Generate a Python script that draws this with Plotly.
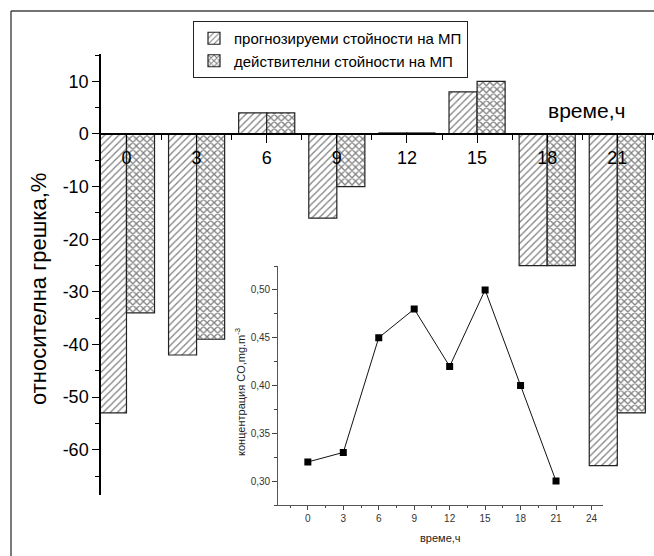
import plotly.graph_objects as go

# ---- data ----
hours = [0, 3, 6, 9, 12, 15, 18, 21]
predicted_err = [-53, -42, 4, -16, 0.2, 8, -25, -63]
actual_err = [-34, -39, 4, -10, 0.2, 10, -25, -53]
y_ticks = [10, 0, -10, -20, -30, -40, -50, -60]
y_ticklabels = ["10", "0", "-10", "-20", "-30", "-40", "-50", "-60"]
co_hours = [0, 3, 6, 9, 12, 15, 18, 21]
co_conc = [0.32, 0.33, 0.45, 0.48, 0.42, 0.50, 0.40, 0.30]
inset_xticks = [0, 3, 6, 9, 12, 15, 18, 21, 24]
inset_yticks = [0.30, 0.35, 0.40, 0.45, 0.50]
name_pred = "прогнозируеми стойности на МП"
name_act = "действителни стойности на МП"

W, H = 654, 556
FONT = "Liberation Sans, Arial, sans-serif"

# main plot area in pixels
mx0, mx1 = 101, 654
my0, my1 = 54, 495  # top, bottom
yr = [-68.6, 15.2]
xr = [-1.09, 22.57]
# inset area in pixels
ix0, ix1 = 278.3, 603.3
iy0, iy1 = 266, 505

ydom = [(H - my1) / H, (H - my0) / H]
zero_pos = ydom[0] + (0 - yr[0]) / (yr[1] - yr[0]) * (ydom[1] - ydom[0])

main_minor_x = [x + 1.5 for x in range(-3, 24, 3)]
main_minor_y = [v + 5 for v in range(-70, 20, 10)]
inset_minor_x = [x + 1.5 for x in range(-3, 27, 3)]
inset_minor_y = [round(v + 0.025, 3) for v in [0.25, 0.30, 0.35, 0.40, 0.45, 0.50]]

fig = go.Figure()
fig.add_trace(go.Bar(
    x=hours, y=predicted_err, name=name_pred, width=1.2, offset=-1.2,
    marker=dict(color="white", line=dict(color="#222", width=1.2),
                pattern=dict(shape="/", size=5, solidity=0.25, fgcolor="#000", bgcolor="white")),
    xaxis="x", yaxis="y"))
fig.add_trace(go.Bar(
    x=hours, y=actual_err, name=name_act, width=1.2, offset=0,
    marker=dict(color="white", line=dict(color="#222", width=1.2),
                pattern=dict(shape="x", size=5, solidity=0.45, fgcolor="#000", bgcolor="white")),
    xaxis="x", yaxis="y"))
fig.add_trace(go.Scatter(
    x=co_hours, y=co_conc, mode="lines+markers", showlegend=False,
    line=dict(color="#111", width=1),
    marker=dict(symbol="square", size=7, color="#000"),
    xaxis="x2", yaxis="y2"))

fig.update_layout(
    width=W, height=H, margin=dict(l=0, r=0, t=0, b=0),
    paper_bgcolor="white", plot_bgcolor="rgba(0,0,0,0)",
    separators=",.",
    font=dict(family=FONT, color="#000"),
    barmode="overlay",
    showlegend=True,
    legend=dict(x=193 / W, y=1 - 21 / H, xanchor="left", yanchor="top",
                bordercolor="#222", borderwidth=1, bgcolor="white",
                font=dict(size=15, family=FONT), itemwidth=30,
                tracegroupgap=0),
    xaxis=dict(domain=[mx0 / W, mx1 / W], range=xr, anchor="free", position=zero_pos,
               tickmode="array", tickvals=hours, ticks="outside", ticklen=8, tickwidth=1,
               tickcolor="#000",
               showline=True, linecolor="#000", linewidth=1.5, showgrid=False, zeroline=False,
               tickfont=dict(size=18), automargin=False,
               minor=dict(tickmode="array", tickvals=main_minor_x, ticks="outside", ticklen=5,
                          tickcolor="#000")),
    yaxis=dict(domain=ydom, range=yr, anchor="x",
               tickmode="array", tickvals=y_ticks, ticktext=y_ticklabels,
               ticks="outside", ticklen=7, tickwidth=1.2, tickcolor="#000",
               showline=True, linecolor="#000", linewidth=1.5, showgrid=False, zeroline=False,
               tickfont=dict(size=18), automargin=False,
               minor=dict(tickmode="array", tickvals=main_minor_y, ticks="outside", ticklen=4,
                          tickcolor="#000")),
    xaxis2=dict(domain=[ix0 / W, ix1 / W], range=[-2.5, 25], anchor="y2",
                tickmode="array", tickvals=inset_xticks, ticks="outside", ticklen=4,
                tickcolor="#444", showline=True, linecolor="#555", linewidth=1.2,
                showgrid=False, zeroline=False, tickfont=dict(size=10, color="#333"),
                automargin=False,
                minor=dict(tickmode="array", tickvals=inset_minor_x, ticks="outside", ticklen=2,
                           tickcolor="#444")),
    yaxis2=dict(domain=[(H - iy1) / H, (H - iy0) / H], range=[0.275, 0.525], anchor="x2",
                tickmode="array", tickvals=inset_yticks, tickformat=".2f",
                ticks="outside", ticklen=5, tickcolor="#444",
                showline=True, linecolor="#555", linewidth=1.2, showgrid=False, zeroline=False,
                tickfont=dict(size=10, color="#333"), automargin=False,
                minor=dict(tickmode="array", tickvals=inset_minor_y, ticks="outside", ticklen=3,
                           tickcolor="#444")),
    annotations=[
        dict(text="относителна грешка,%", x=38 / W, y=1 - 289 / H, xref="paper", yref="paper",
             xanchor="center", yanchor="middle",
             textangle=-90, showarrow=False, font=dict(size=22)),
        dict(text="време,ч", x=586 / W, y=1 - 111 / H, xref="paper", yref="paper",
             xanchor="center", yanchor="middle",
             showarrow=False, font=dict(size=21)),
        dict(text="време,ч", x=441 / W, y=1 - 538 / H, xref="paper", yref="paper",
             xanchor="center", yanchor="middle",
             showarrow=False, font=dict(size=11, color="#222")),
        dict(text="концентрация CO,mg.m<sup>-3</sup>", x=240 / W, y=1 - 392 / H,
             xref="paper", yref="paper", xanchor="center", yanchor="middle",
             textangle=-90, showarrow=False,
             font=dict(size=11, color="#222")),
    ],
    shapes=[
        dict(type="line", xref="paper", yref="paper", x0=11 / W, x1=1, y0=1 - 11 / H, y1=1 - 11 / H,
             line=dict(color="#444", width=1.5)),
        dict(type="line", xref="paper", yref="paper", x0=11 / W, x1=11 / W, y0=0, y1=1 - 11 / H,
             line=dict(color="#222", width=1.2)),
    ],
)

fig.write_html("out.html")
